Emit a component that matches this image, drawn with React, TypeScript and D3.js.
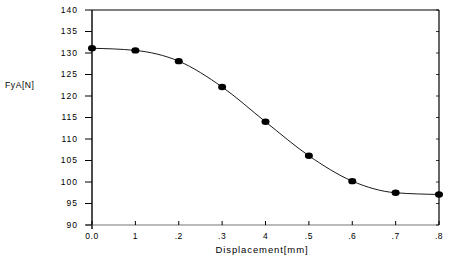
import React from "react";
import * as d3 from "d3";

// displacement steps (0.0 .. 0.8 mm) and measured force
const displacement = [0, 1, 2, 3, 4, 5, 6, 7, 8];
const force = [131.1, 130.6, 128.1, 122.1, 114.0, 106.1, 100.2, 97.5, 97.1];
const xTickLabels = ["0.0", "1", ".2", ".3", "4", ".5", ".6", ".7", ".8"];
const yTicks = [90, 95, 100, 105, 110, 115, 120, 125, 130, 135, 140];

export default function App() {
  const width = 450;
  const height = 261;
  const margin = { top: 10, right: 11, bottom: 36, left: 92 };

  const x = d3.scaleLinear().domain([0, 8]).range([margin.left, width - margin.right]);
  const y = d3.scaleLinear().domain([90, 140]).range([height - margin.bottom, margin.top]);

  const line = d3
    .line<number>()
    .x((d, i) => x(displacement[i]))
    .y((d) => y(d))
    .curve(d3.curveMonotoneX);

  const font = "Liberation Sans, Arial, sans-serif";

  return (
    <svg
      width={width}
      height={height}
      style={{ position: "absolute", left: 0, top: 0, background: "#fff" }}
    >
      {/* frame */}
      <line x1={x(0)} x2={x(8)} y1={y(140)} y2={y(140)} stroke="#000" strokeWidth={1.2} />
      <line x1={x(8)} x2={x(8)} y1={y(140)} y2={y(90)} stroke="#000" strokeWidth={1.2} />
      <line x1={x(0)} x2={x(0)} y1={y(140)} y2={y(90) + 4} stroke="#000" strokeWidth={1.4} />
      <line x1={x(0) - 6} x2={x(8)} y1={y(90)} y2={y(90)} stroke="#777" strokeWidth={1.2} />

      {/* y ticks */}
      {yTicks.map((t) => (
        <g key={t}>
          <line x1={x(0) - 7} x2={x(0)} y1={y(t)} y2={y(t)} stroke="#000" strokeWidth={1} />
          <line x1={x(8) - 3} x2={x(8)} y1={y(t)} y2={y(t)} stroke="#000" strokeWidth={0.8} />
          <text
            x={x(0) - 14}
            y={y(t)}
            dy="0.35em"
            textAnchor="end"
            fontFamily={font}
            fontSize={8.5}
            letterSpacing={1}
          >
            {t}
          </text>
        </g>
      ))}

      {/* x ticks */}
      {displacement.map((d, i) => (
        <g key={d}>
          <line x1={x(d)} x2={x(d)} y1={y(90)} y2={y(90) - 4} stroke="#000" strokeWidth={1} />
          <text
            x={x(d)}
            y={y(90) + 14}
            textAnchor="middle"
            fontFamily={font}
            fontSize={8.5}
            letterSpacing={0.5}
          >
            {xTickLabels[i]}
          </text>
        </g>
      ))}

      {/* curve + markers */}
      <path d={line(force) ?? ""} fill="none" stroke="#000" strokeWidth={0.9} />
      {force.map((f, i) => (
        <ellipse key={i} cx={x(displacement[i])} cy={y(f)} rx={4} ry={3.2} fill="#000" />
      ))}

      {/* axis titles */}
      <text x={5} y={88} fontFamily={font} fontSize={8.5} letterSpacing={0.6}>
        FyA[N]
      </text>
      <text
        x={262}
        y={y(90) + 28}
        textAnchor="middle"
        fontFamily={font}
        fontSize={9.5}
        letterSpacing={0.9}
      >
        Displacement[mm]
      </text>
    </svg>
  );
}
